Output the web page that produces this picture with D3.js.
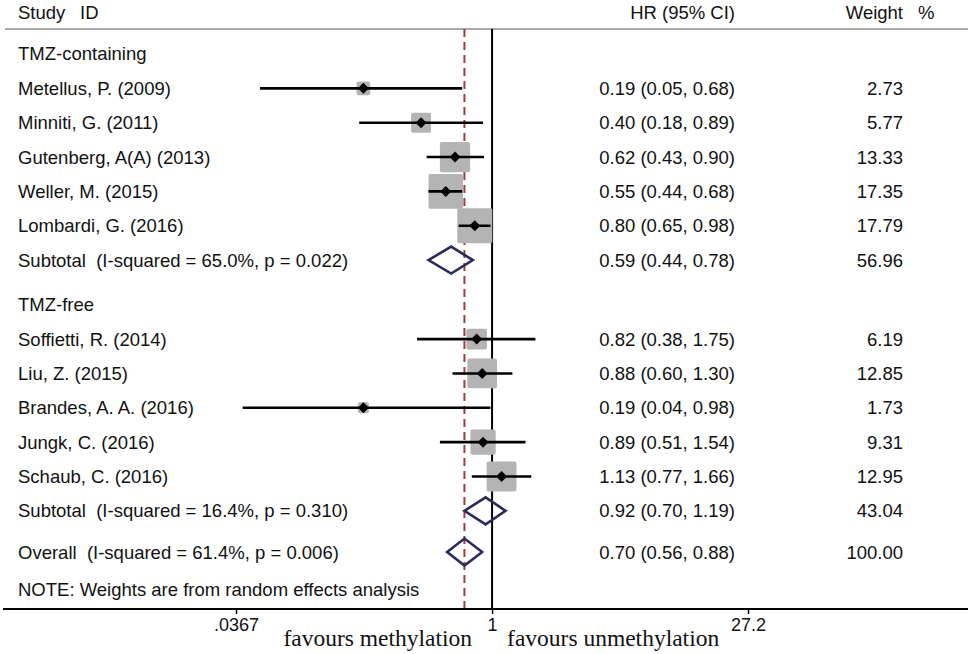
<!DOCTYPE html>
<html>
<head>
<meta charset="utf-8">
<script src="https://cdn.jsdelivr.net/npm/d3@7"></script>
<style>
  body { margin: 0; background: #fff; }
  svg { display: block; }
  text { font-family: "Liberation Sans", Arial, sans-serif; fill: #111; white-space: pre; }
</style>
</head>
<body>
<div id="chart"></div>
<script>
// study level data
var groupNames = ['TMZ-containing', 'TMZ-free'];
var studyNames = [
  'Metellus, P. (2009)', 'Minniti, G. (2011)', 'Gutenberg, A(A) (2013)',
  'Weller, M. (2015)', 'Lombardi, G. (2016)',
  'Soffietti, R. (2014)', 'Liu, Z. (2015)', 'Brandes, A. A. (2016)',
  'Jungk, C. (2016)', 'Schaub, C. (2016)'
];
var studyGroup = [0, 0, 0, 0, 0, 1, 1, 1, 1, 1];
var studyHR    = [0.19, 0.40, 0.62, 0.55, 0.80, 0.82, 0.88, 0.19, 0.89, 1.13];
var studyLower = [0.05, 0.18, 0.43, 0.44, 0.65, 0.38, 0.60, 0.04, 0.51, 0.77];
var studyUpper = [0.68, 0.89, 0.90, 0.68, 0.98, 1.75, 1.30, 0.98, 1.54, 1.66];
var studyWeight = [2.73, 5.77, 13.33, 17.35, 17.79, 6.19, 12.85, 1.73, 9.31, 12.95];

var subtotalLabels = [
  'Subtotal  (I-squared = 65.0%, p = 0.022)',
  'Subtotal  (I-squared = 16.4%, p = 0.310)'
];
var subtotalHR = [0.59, 0.92];
var subtotalLower = [0.44, 0.70];
var subtotalUpper = [0.78, 1.19];
var subtotalWeight = [56.96, 43.04];

var overallLabel = 'Overall  (I-squared = 61.4%, p = 0.006)';
var overallHR = 0.70, overallLower = 0.56, overallUpper = 0.88, overallWeight = 100.00;

var tickValues = [0.0367, 1, 27.2];
var tickLabels = ['.0367', '1', '27.2'];
var noteText = 'NOTE: Weights are from random effects analysis';

var width = 968, height = 654;

var svg = d3.select('#chart').append('svg')
    .attr('width', width)
    .attr('height', height);

// build row list (pos = row slot, in units of row height)
var rows = [];
var pos = 0;
groupNames.forEach(function(g, gi) {
  if (gi > 0) pos += 0.3;
  rows.push({type: 'group', label: g, pos: pos++});
  studyNames.forEach(function(name, i) {
    if (studyGroup[i] !== gi) return;
    rows.push({type: 'study', label: name, hr: studyHR[i], lo: studyLower[i],
      hi: studyUpper[i], w: studyWeight[i], pos: pos++});
  });
  rows.push({type: 'pooled', label: subtotalLabels[gi], hr: subtotalHR[gi],
    lo: subtotalLower[gi], hi: subtotalUpper[gi], w: subtotalWeight[gi], pos: pos++});
});
pos += 0.2;
rows.push({type: 'pooled', label: overallLabel, hr: overallHR, lo: overallLower,
  hi: overallUpper, w: overallWeight, pos: pos});
pos += 1.1;
rows.push({type: 'note', label: noteText, pos: pos});

var y = d3.scaleLinear().domain([0, 1]).range([54, 88.35]);
var x = d3.scaleLog().domain([0.0367, 27.2]).range([236, 748]);
var boxSize = d3.scaleSqrt().domain([0, 100]).range([0, 83]);
var fmt = d3.format('.2f');

var topY = 29, axisY = 609;

// header
var header = svg.append('g').style('font-size', '18.5px');
header.append('text').attr('x', 18).attr('y', 13).attr('dy', '0.35em').text('Study');
header.append('text').attr('x', 80).attr('y', 13).attr('dy', '0.35em').text('ID');
header.append('text').attr('x', 735).attr('y', 13).attr('dy', '0.35em')
    .attr('text-anchor', 'end').text('HR (95% CI)');
header.append('text').attr('x', 903).attr('y', 13).attr('dy', '0.35em')
    .attr('text-anchor', 'end').text('Weight');
header.append('text').attr('x', 918).attr('y', 13).attr('dy', '0.35em').text('%');

svg.append('line')
    .attr('x1', 5).attr('x2', width)
    .attr('y1', topY).attr('y2', topY)
    .attr('stroke', '#aaa').attr('stroke-width', 2);

// reference lines
svg.append('line')
    .attr('x1', x(1)).attr('x2', x(1))
    .attr('y1', topY).attr('y2', axisY)
    .attr('stroke', '#000').attr('stroke-width', 2);

svg.append('line')
    .attr('x1', x(overallHR)).attr('x2', x(overallHR))
    .attr('y1', topY).attr('y2', axisY)
    .attr('stroke', '#a03c3c').attr('stroke-width', 2)
    .attr('stroke-dasharray', '8,5');

// row text
var rowText = svg.append('g').style('font-size', '18.5px');
rowText.selectAll('text.label')
    .data(rows)
  .enter().append('text')
    .attr('class', 'label')
    .attr('x', 18)
    .attr('y', function(d) { return y(d.pos); })
    .attr('dy', '0.35em')
    .text(function(d) { return d.label; });

var valued = rows.filter(function(d) { return d.hr != null; });

rowText.selectAll('text.hr')
    .data(valued)
  .enter().append('text')
    .attr('class', 'hr')
    .attr('x', 735)
    .attr('y', function(d) { return y(d.pos); })
    .attr('dy', '0.35em')
    .attr('text-anchor', 'end')
    .text(function(d) { return fmt(d.hr) + ' (' + fmt(d.lo) + ', ' + fmt(d.hi) + ')'; });

rowText.selectAll('text.weight')
    .data(valued)
  .enter().append('text')
    .attr('class', 'weight')
    .attr('x', 903)
    .attr('y', function(d) { return y(d.pos); })
    .attr('dy', '0.35em')
    .attr('text-anchor', 'end')
    .text(function(d) { return fmt(d.w); });

// study markers
var studies = rows.filter(function(d) { return d.type === 'study'; });
var study = svg.selectAll('g.study')
    .data(studies)
  .enter().append('g')
    .attr('class', 'study')
    .attr('transform', function(d) { return 'translate(0,' + y(d.pos) + ')'; });

study.append('rect')
    .attr('x', function(d) { return x(d.hr) - boxSize(d.w) / 2; })
    .attr('y', function(d) { return -boxSize(d.w) / 2; })
    .attr('width', function(d) { return boxSize(d.w); })
    .attr('height', function(d) { return boxSize(d.w); })
    .attr('rx', 2)
    .attr('fill', '#b4b4b4');

study.append('line')
    .attr('x1', function(d) { return x(d.lo); })
    .attr('x2', function(d) { return x(d.hi); })
    .attr('stroke', '#000').attr('stroke-width', 2.6);

study.append('path')
    .attr('d', function(d) {
      var cx = x(d.hr);
      return 'M' + (cx - 5.5) + ',0L' + cx + ',-5.5L' + (cx + 5.5) + ',0L' + cx + ',5.5Z';
    })
    .attr('fill', '#000');

// pooled diamonds
svg.selectAll('path.pooled')
    .data(rows.filter(function(d) { return d.type === 'pooled'; }))
  .enter().append('path')
    .attr('class', 'pooled')
    .attr('d', function(d) {
      var cy = y(d.pos), h = 13.5;
      return 'M' + x(d.lo) + ',' + cy + 'L' + x(d.hr) + ',' + (cy - h) +
        'L' + x(d.hi) + ',' + cy + 'L' + x(d.hr) + ',' + (cy + h) + 'Z';
    })
    .attr('fill', 'none')
    .attr('stroke', '#2b2a5c')
    .attr('stroke-width', 2.6)
    .attr('stroke-linejoin', 'miter');

// x axis
svg.append('line')
    .attr('x1', 3).attr('x2', width)
    .attr('y1', axisY).attr('y2', axisY)
    .attr('stroke', '#000').attr('stroke-width', 2);

var axis = svg.append('g')
    .attr('transform', 'translate(0,' + axisY + ')')
    .call(d3.axisBottom(x)
      .tickValues(tickValues)
      .tickFormat(function(d, i) { return tickLabels[i]; })
      .tickSize(5)
      .tickPadding(4));
axis.select('.domain').remove();
axis.selectAll('.tick line').attr('stroke', '#000').attr('stroke-width', 1.5);
axis.selectAll('.tick text')
    .style('font-family', '"Liberation Sans", Arial, sans-serif')
    .style('font-size', '18px')
    .attr('fill', '#111');

svg.append('text')
    .attr('x', x(1) - 20).attr('y', 646)
    .attr('text-anchor', 'end')
    .style('font-family', '"Liberation Serif", "Times New Roman", serif')
    .style('font-size', '23.5px')
    .text('favours methylation');

svg.append('text')
    .attr('x', x(1) + 15).attr('y', 646)
    .style('font-family', '"Liberation Serif", "Times New Roman", serif')
    .style('font-size', '23.5px')
    .text('favours unmethylation');
</script>
</body>
</html>
